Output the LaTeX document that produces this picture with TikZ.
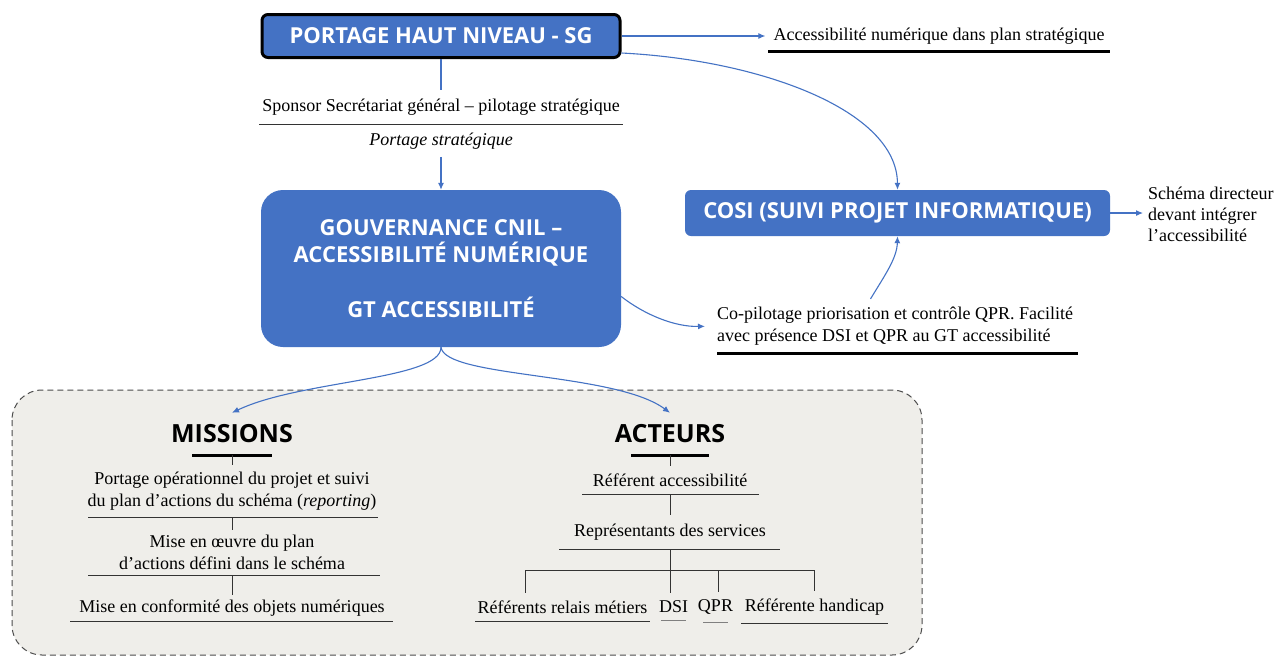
\documentclass[tikz,border=0pt]{standalone}
\usepackage{fontspec}
\setmainfont{Liberation Serif}
\newfontfamily\headfont{Open Sans}
\usepackage{tikz}
\usetikzlibrary{arrows.meta}

\definecolor{cnilblue}{HTML}{4472C4}
\definecolor{panelgray}{HTML}{EFEEEA}
\definecolor{rulegray}{HTML}{333333}

\tikzset{
	bluebox/.style={fill=cnilblue, text=white, align=center, inner sep=0pt,
		font=\headfont\bfseries\fontsize{22}{27}\selectfont},
	heading/.style={font=\headfont\bfseries\fontsize{25}{30}\selectfont, minimum height=42pt, inner ysep=0pt},
	txt/.style={font=\fontsize{18}{22}\selectfont, align=center, inner xsep=0pt},
	flow/.style={cnilblue, line width=1.1pt, -{Latex[length=7pt,width=6pt]}},
	link/.style={cnilblue, line width=1.1pt},
	tree/.style={rulegray, line width=1pt},
	thinrule/.style={rulegray, line width=1pt},
	thickrule/.style={black, line width=3pt},
}

\begin{document}
\begin{tikzpicture}[x=1pt,y=-1pt]
		\path[fill=white] (0,0) rectangle (1280,657) ;
		\useasboundingbox (0,0) rectangle (1280,657) ;

		% grey panel behind missions and actors
		\draw[fill=panelgray, draw=black!70, line width=1pt, dash pattern=on 6pt off 4pt, rounded corners=30pt] (12,390) rectangle (922,655) ;

		% top of the chain
		\node (haut) at (441,36)[bluebox, draw=black, line width=3pt, rounded corners=6pt, minimum width=358pt, minimum height=43pt]{PORTAGE HAUT NIVEAU - SG} ;
		\node (strat) at (939,36)[txt, inner ysep=6.7pt]{Accessibilité numérique dans plan stratégique} ;
		\draw[thickrule] ([xshift=-171pt]strat.south) -- ([xshift=171pt]strat.south) ;
		\draw[flow] (haut.east) -- ([xshift=-8pt]haut.east -| strat.west) ;

		\node (sponsor) at (441,107)[txt, inner ysep=8.7pt]{Sponsor Secrétariat général – pilotage stratégique} ;
		\draw[thinrule] ([xshift=-182pt]sponsor.south) -- ([xshift=182pt]sponsor.south) ;
		\node (portage) at (441,141)[txt, inner ysep=7.5pt]{\itshape Portage stratégique} ;
		\draw[link] (haut) -- (sponsor) ;

		\node (gouv) at (441,268.5)[bluebox, rounded corners=22pt, minimum width=360pt, minimum height=157pt]{GOUVERNANCE CNIL –\\ACCESSIBILITÉ NUMÉRIQUE\\[28pt]GT ACCESSIBILITÉ} ;
		\draw[flow] (portage) -- (gouv) ;

		% COSI branch
		\node (cosi) at (897.5,213)[bluebox, rounded corners=6pt, minimum width=425pt, minimum height=46pt]{COSI (SUIVI PROJET INFORMATIQUE)} ;
		\node (schema) at (1148,214)[txt, anchor=west, align=left, font=\fontsize{18}{21}\selectfont]{Schéma directeur\\devant intégrer\\l’accessibilité} ;
		\draw[flow, shorten >=5pt] (cosi.east) -- (cosi.east -| schema.west) ;

		\node (copil) at (717,326)[txt, anchor=west, align=left, inner ysep=7.7pt]{Co-pilotage priorisation et contrôle QPR. Facilité\\avec présence DSI et QPR au GT accessibilité} ;
		\draw[thickrule] (copil.south west) -- ++(361,0) ;
		\coordinate (copil top) at ([xshift=-27pt]cosi.south |- copil.north) ;

		\draw[flow] ([yshift=-17pt]haut.east) .. controls (760,60) and (897,110) .. (cosi.north) ;
		\draw[flow, shorten >=12pt] ([yshift=-28pt]gouv.east) .. controls (645,315) and (675,327) .. (copil.west) ;
		\draw[flow] (copil top) .. controls (885,275) and (897,258) .. (cosi.south) ;

		% missions
		\node (missions) at (232,434)[heading]{MISSIONS} ;
		\draw[thickrule] ([xshift=-40pt]missions.south) -- ([xshift=40pt]missions.south) ;
		\node (m1) at (232,491)[txt, inner ysep=6.7pt]{Portage opérationnel du projet et suivi\\du plan d’actions du schéma (\textit{reporting})} ;
		\node (m2) at (232,552.5)[txt, inner ysep=5.2pt]{Mise en œuvre du plan\\d’actions défini dans le schéma} ;
		\node (m3) at (232,608)[txt, inner ysep=4.7pt]{Mise en conformité des objets numériques} ;
		\draw[thinrule] ([xshift=-144pt]m1.south) -- ([xshift=146pt]m1.south) ;
		\draw[thinrule] ([xshift=-144pt]m2.south) -- ([xshift=148pt]m2.south) ;
		\draw[thinrule] ([xshift=-162pt]m3.south) -- ([xshift=161pt]m3.south) ;
		\draw[tree] (missions) -- (m1) ;
		\draw[tree] (m1) -- (m2) ;
		\draw[tree] (m2) -- (m3) ;

		% acteurs
		\node (acteurs) at (670,434)[heading]{ACTEURS} ;
		\draw[thickrule] ([xshift=-39pt]acteurs.south) -- ([xshift=39pt]acteurs.south) ;
		\node (a1) at (670,480)[txt, inner ysep=7.7pt]{Référent accessibilité} ;
		\node (a2) at (670,532)[txt, inner ysep=8.7pt]{Représentants des services} ;
		\draw[thinrule] ([xshift=-88pt]a1.south) -- ([xshift=89pt]a1.south) ;
		\draw[thinrule] ([xshift=-111pt]a2.south) -- ([xshift=110pt]a2.south) ;
		\draw[tree] (acteurs) -- (a1) ;
		\draw[tree] (a1) -- (a2) ;

		\node (b1) at (562.5,607)[txt, inner ysep=7.7pt]{Référents relais métiers} ;
		\node (b2) at (673.5,607)[txt, inner ysep=7.7pt]{DSI} ;
		\node (b3) at (715.5,607)[txt, inner ysep=7.7pt]{QPR} ;
		\node (b4) at (814.5,607)[txt, inner ysep=7.7pt]{Référente handicap} ;
		\draw[thinrule] ([xshift=-87.5pt]b1.south) -- ([xshift=87.5pt]b1.south) ;
		\draw[thinrule, gray] ([xshift=-12.5pt]b2.south) -- ([xshift=12.5pt]b2.south) ;
		\draw[thinrule, gray] ([xshift=-12.5pt]b3.south) -- ([xshift=12.5pt]b3.south) ;
		\draw[thinrule] ([xshift=-73.5pt]b4.south) -- ([xshift=73.5pt]b4.south) ;
		\coordinate (rail) at (670,570) ;
		\draw[tree] (a2.south) -- (b2.north -| a2.south) ;
		\draw[tree] ([xshift=-37.5pt]b1.north) |- (rail) -| (b4.north) ;
		\draw[tree] ([xshift=2.5pt]b3.north) -- ([xshift=2.5pt]b3.north |- rail) ;

		% links down from the governance block
		\draw[flow] (gouv.south) .. controls (441,380) and (300,380) .. (missions.north) ;
		\draw[flow] (gouv.south) .. controls (445,378) and (615,372) .. (acteurs.north) ;
\end{tikzpicture}
\end{document}
